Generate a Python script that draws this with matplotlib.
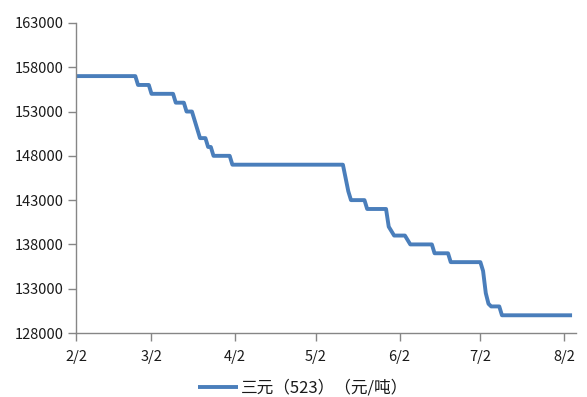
import matplotlib
matplotlib.use("Agg")
import matplotlib.pyplot as plt
import matplotlib.dates as mdates
import numpy as np
import pandas as pd

plt.rcParams['font.family'] = ['Noto Sans CJK SC', 'DejaVu Sans']

# Data: day offsets from Feb 2 and price (元/吨)
start_date = "2023-02-02"
day_offsets = [0, 22, 23, 27, 28, 36, 37, 40, 41, 43, 44, 45, 46, 48, 49, 50, 51,
               57, 58, 99, 100, 101, 102, 107, 108, 115, 116, 117, 118, 122, 124,
               132, 133, 138, 139, 150, 151, 152, 153, 154, 157, 158, 184]
prices = [157000, 157000, 156000, 156000, 155000, 155000, 154000, 154000, 153000,
          153000, 152000, 151000, 150000, 150000, 149000, 149000, 148000,
          148000, 147000, 147000, 145500, 144000, 143000, 143000, 142000,
          142000, 140000, 139500, 139000, 139000, 138000,
          138000, 137000, 137000, 136000, 136000, 135000, 132500, 131300,
          131000, 131000, 130000, 130000]
series_name = "三元（523）（元/吨）"
tick_labels = ["2/2", "3/2", "4/2", "5/2", "6/2", "7/2", "8/2"]
tick_dates = ["2023-02-02", "2023-03-02", "2023-04-02", "2023-05-02",
              "2023-06-02", "2023-07-02", "2023-08-02"]
y_ticks = [128000, 133000, 138000, 143000, 148000, 153000, 158000, 163000]

dates = pd.Timestamp(start_date) + pd.to_timedelta(day_offsets, unit="D")

fig = plt.figure(figsize=(5.87, 3.97), dpi=100)
ax = fig.add_axes([0.1295, 0.1612, 0.851, 0.781])

ax.plot(dates, prices, color="#4a7ebb", lw=2.8, solid_joinstyle="round",
        solid_capstyle="butt", label=series_name)

ax.set_ylim(128000, 163000)
ax.set_yticks(y_ticks)
ax.set_yticklabels([str(v) for v in y_ticks])
ax.set_xlim(pd.Timestamp(start_date), pd.Timestamp(start_date) + pd.Timedelta(days=185.3))
ax.set_xticks(pd.to_datetime(tick_dates))
ax.set_xticklabels(tick_labels)

for s in ["top", "right"]:
    ax.spines[s].set_visible(False)
for s in ["left", "bottom"]:
    ax.spines[s].set_color("#868686")
    ax.spines[s].set_linewidth(1.0)
ax.tick_params(axis="both", colors="#868686", length=6, width=1.0,
               labelcolor="#1a1a1a", labelsize=10.5)
ax.tick_params(axis="y", pad=3)
ax.tick_params(axis="x", pad=6)

leg = fig.legend(loc="center", bbox_to_anchor=(0.516, 1 - 388 / 397), frameon=False,
                 fontsize=12, handlelength=2.4, handletextpad=0.15)
for t in leg.get_texts():
    t.set_color("#1a1a1a")

fig.savefig("out.png", dpi=100)
